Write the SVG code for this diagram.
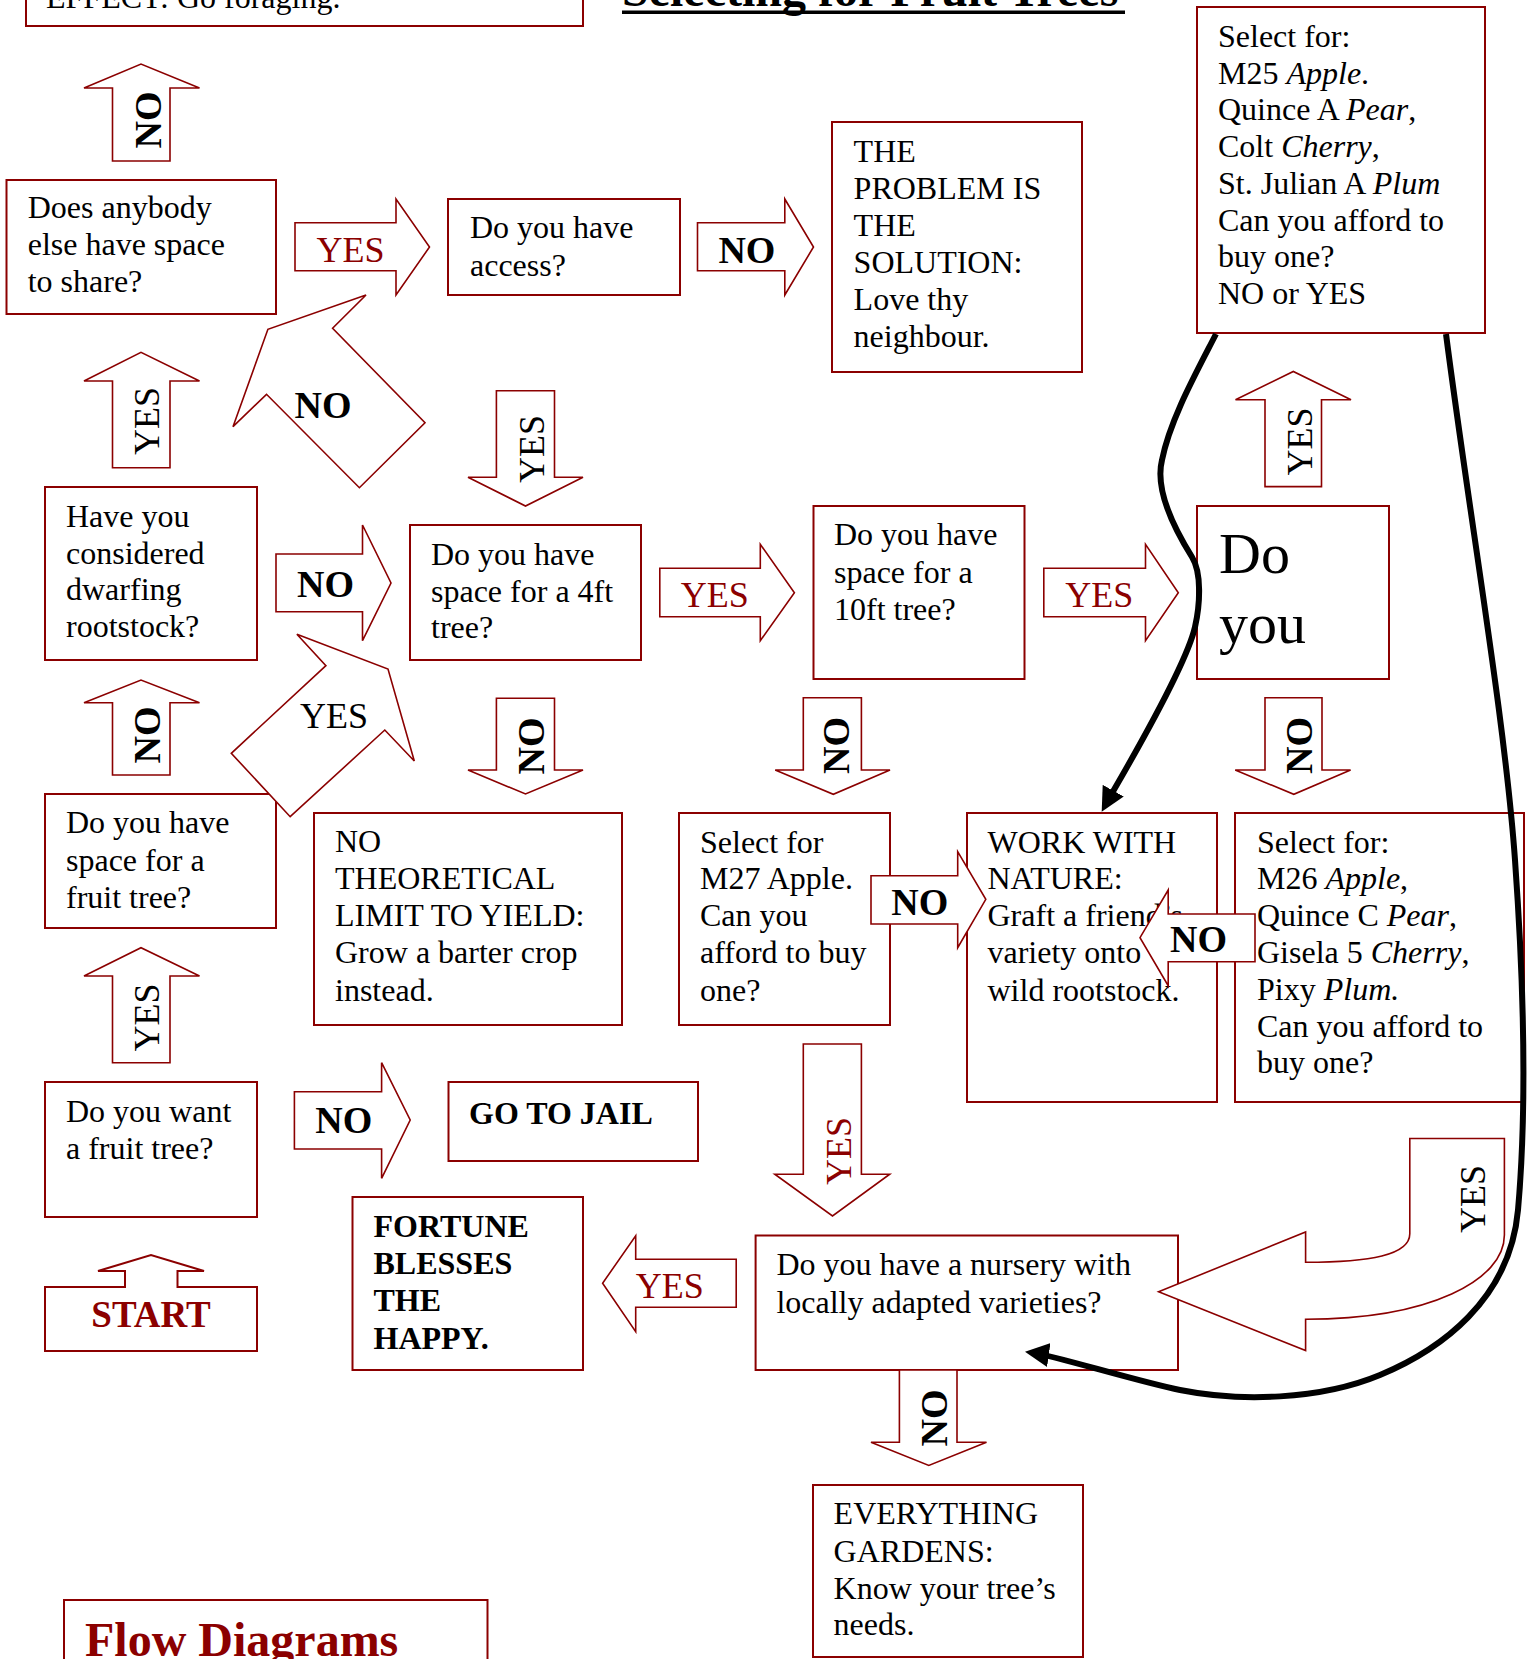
<svg xmlns="http://www.w3.org/2000/svg" width="1538" height="1659" viewBox="0 0 1538 1659">
<style>
.box{fill:#fff;stroke:#8b0000;stroke-width:2}
.arr{fill:#fff;stroke:#8b0000;stroke-width:1.6;stroke-linejoin:miter}
.t{font-family:"Liberation Serif","Times New Roman",serif;font-size:32px;fill:#000}
.bd{font-weight:bold}
.i{font-style:italic}
.no{font-family:"Liberation Serif","Times New Roman",serif;font-weight:bold;font-size:38px;fill:#000}
.yes{font-family:"Liberation Serif","Times New Roman",serif;font-size:36px;fill:#000}
.red{fill:#8b0000}
.curve{fill:none;stroke:#000;stroke-width:6;marker-end:url(#ah)}
</style>
<defs>
<marker id="ah" markerUnits="userSpaceOnUse" markerWidth="24" markerHeight="24" viewBox="0 0 24 24" refX="14" refY="12" orient="auto"><path d="M0,0 L24,12 L0,24 Z" fill="#000"/></marker>
</defs>
<rect width="1538" height="1659" fill="#fff"/>

<g id="title">
<text class="t bd" x="622" y="5.5" style="font-size:48px">Selecting for Fruit Trees</text>
<rect x="622" y="10.5" width="503" height="3.5" fill="#000"/>
</g>

<g id="nodes">
<g id="effect"><rect class="box" x="26" y="-40" width="557" height="66"/>
<text class="t" x="46" y="7.5">EFFECT: Go foraging.</text></g>

<g id="anybody"><rect class="box" x="6.5" y="180" width="269.5" height="134"/>
<text class="t" x="27.7" y="218">Does anybody</text>
<text class="t" x="27.7" y="255">else have space</text>
<text class="t" x="27.7" y="292">to share?</text></g>

<g id="access"><rect class="box" x="448" y="199" width="232" height="96"/>
<text class="t" x="470" y="238">Do you have</text>
<text class="t" x="470" y="276">access?</text></g>

<g id="problem"><rect class="box" x="832" y="122" width="250" height="250"/>
<text class="t" x="853.6" y="162">THE</text>
<text class="t" x="853.6" y="199">PROBLEM IS</text>
<text class="t" x="853.6" y="236">THE</text>
<text class="t" x="853.6" y="273">SOLUTION:</text>
<text class="t" x="853.6" y="310">Love thy</text>
<text class="t" x="853.6" y="347">neighbour.</text></g>

<g id="m25"><rect class="box" x="1197" y="7" width="288" height="326"/>
<text class="t" x="1218" y="47">Select for:</text>
<text class="t" x="1218" y="83.7">M25 <tspan class="i">Apple</tspan>.</text>
<text class="t" x="1218" y="120.4">Quince A <tspan class="i">Pear</tspan>,</text>
<text class="t" x="1218" y="157.1">Colt <tspan class="i">Cherry</tspan>,</text>
<text class="t" x="1218" y="193.8">St. Julian A <tspan class="i">Plum</tspan></text>
<text class="t" x="1218" y="230.5">Can you afford to</text>
<text class="t" x="1218" y="267.2">buy one?</text>
<text class="t" x="1218" y="304">NO or YES</text></g>

<g id="dwarfing"><rect class="box" x="45" y="487" width="212" height="173"/>
<text class="t" x="66" y="527">Have you</text>
<text class="t" x="66" y="564">considered</text>
<text class="t" x="66" y="600">dwarfing</text>
<text class="t" x="66" y="637">rootstock?</text></g>

<g id="space4ft"><rect class="box" x="410" y="525" width="231" height="135"/>
<text class="t" x="431" y="565">Do you have</text>
<text class="t" x="431" y="602">space for a 4ft</text>
<text class="t" x="431" y="638">tree?</text></g>

<g id="space10ft"><rect class="box" x="813.5" y="506" width="211" height="173"/>
<text class="t" x="834" y="545">Do you have</text>
<text class="t" x="834" y="583">space for a</text>
<text class="t" x="834" y="620">10ft tree?</text></g>

<g id="doyou"><rect class="box" x="1197" y="506" width="192" height="173"/>
<text class="t" x="1219" y="573" style="font-size:58px">Do</text>
<text class="t" x="1219" y="643" style="font-size:58px">you</text></g>

<g id="fruitspace"><rect class="box" x="45" y="794" width="231" height="134"/>
<text class="t" x="66" y="833">Do you have</text>
<text class="t" x="66" y="871">space for a</text>
<text class="t" x="66" y="908">fruit tree?</text></g>

<g id="nolimit"><rect class="box" x="314" y="813" width="308" height="212"/>
<text class="t" x="335" y="852">NO</text>
<text class="t" x="335" y="889">THEORETICAL</text>
<text class="t" x="335" y="926">LIMIT TO YIELD:</text>
<text class="t" x="335" y="963">Grow a barter crop</text>
<text class="t" x="335" y="1001">instead.</text></g>

<g id="m27"><rect class="box" x="679" y="813" width="211" height="212"/>
<text class="t" x="700" y="853">Select for</text>
<text class="t" x="700" y="889">M27 Apple.</text>
<text class="t" x="700" y="926">Can you</text>
<text class="t" x="700" y="963">afford to buy</text>
<text class="t" x="700" y="1001">one?</text></g>

<g id="nature"><rect class="box" x="967" y="813" width="250" height="289"/>
<text class="t" x="987.5" y="853">WORK WITH</text>
<text class="t" x="987.5" y="889">NATURE:</text>
<text class="t" x="987.5" y="926">Graft a friend’s</text>
<text class="t" x="987.5" y="963">variety onto</text>
<text class="t" x="987.5" y="1001">wild rootstock.</text></g>

<g id="m26"><rect class="box" x="1235" y="813" width="289" height="289"/>
<text class="t" x="1257" y="853">Select for:</text>
<text class="t" x="1257" y="889">M26 <tspan class="i">Apple</tspan>,</text>
<text class="t" x="1257" y="926">Quince C <tspan class="i">Pear</tspan>,</text>
<text class="t" x="1257" y="963">Gisela 5 <tspan class="i">Cherry</tspan>,</text>
<text class="t" x="1257" y="1000">Pixy <tspan class="i">Plum.</tspan></text>
<text class="t" x="1257" y="1037">Can you afford to</text>
<text class="t" x="1257" y="1073">buy one?</text></g>

<g id="want"><rect class="box" x="45" y="1082" width="212" height="135"/>
<text class="t" x="66" y="1122">Do you want</text>
<text class="t" x="66" y="1159">a fruit tree?</text></g>

<g id="jail"><rect class="box" x="448.5" y="1082" width="249.5" height="79"/>
<text class="t bd" x="469" y="1124">GO TO JAIL</text></g>

<g id="fortune"><rect class="box" x="352.5" y="1197" width="230.5" height="173"/>
<text class="t bd" x="373.5" y="1237">FORTUNE</text>
<text class="t bd" x="373.5" y="1274">BLESSES</text>
<text class="t bd" x="373.5" y="1311">THE</text>
<text class="t bd" x="373.5" y="1349">HAPPY.</text></g>

<g id="start"><path class="box" d="M45,1287 H125 V1271 H98 L151,1255 L204,1271 H177.5 V1287 H257 V1351 H45 Z"/>
<text class="t bd red" x="151" y="1327" text-anchor="middle" style="font-size:37px">START</text></g>

<g id="nursery"><rect class="box" x="755.6" y="1235.5" width="422.4" height="134.5"/>
<text class="t" x="776.4" y="1274.7">Do you have a nursery with</text>
<text class="t" x="776.4" y="1313">locally adapted varieties?</text></g>

<g id="everything"><rect class="box" x="813" y="1485" width="270" height="172"/>
<text class="t" x="833.6" y="1524">EVERYTHING</text>
<text class="t" x="833.6" y="1562">GARDENS:</text>
<text class="t" x="833.6" y="1599">Know your tree’s</text>
<text class="t" x="833.6" y="1635">needs.</text></g>

<g id="flow"><rect class="box" x="64" y="1600" width="423.5" height="90"/>
<text class="t bd red" x="85" y="1656" style="font-size:48px">Flow Diagrams</text></g>
</g>

<g id="connectors">
<g><path class="arr" d="M112.5,161 V88 H84 L141,64 L199.5,88 H170 V161 Z"/>
<text class="no" x="161" y="120" text-anchor="middle" transform="rotate(-90 161 120)">NO</text></g>
<g><path class="arr" d="M295,222.7 H396 V199 L429.5,247 L396,295 V270.7 H295 Z"/>
<text class="yes red" x="316.5" y="262">YES</text></g>
<g><path class="arr" d="M697.5,222.7 H784.8 V199 L813.5,247 L784.8,295 V270.7 H697.5 Z"/>
<text class="no" x="718.4" y="263">NO</text></g>
<g><path class="arr" d="M366,295 L332.6,328.3 L425,422.7 L359.4,487.7 L266.5,394.3 L233,426.7 L267.9,329.3 Z"/>
<text class="no" x="294.6" y="418">NO</text></g>
<g><path class="arr" d="M112.5,467.7 V381 H84 L141,352.3 L199.5,381 H170 V467.7 Z"/>
<text class="yes" x="158.5" y="421" text-anchor="middle" transform="rotate(-90 158.5 421)">YES</text></g>
<g><path class="arr" d="M496.4,390.7 H554.5 V477.3 H583 L525.5,506 L468,477.3 H496.4 Z"/>
<text class="yes" x="543.5" y="449" text-anchor="middle" transform="rotate(-90 543.5 449)">YES</text></g>
<g><path class="arr" d="M276,554 H362.5 V525 L391,583 L362.5,640.7 V611.7 H276 Z"/>
<text class="no" x="297" y="596.7">NO</text></g>
<g><path class="arr" d="M659.8,568.3 H760.3 V544.3 L794.4,592.7 L760.3,640.7 V616.7 H659.8 Z"/>
<text class="yes red" x="680.7" y="607.3">YES</text></g>
<g><path class="arr" d="M1043.8,568.3 H1145.5 V544.3 L1178.3,592.7 L1145.5,640.7 V616.7 H1043.8 Z"/>
<text class="yes red" x="1065.3" y="607.3">YES</text></g>
<g><path class="arr" d="M1265,486.6 V399.8 H1235.5 L1293.3,371.5 L1351,399.8 H1321.5 V486.6 Z"/>
<text class="yes" x="1311.5" y="441.5" text-anchor="middle" transform="rotate(-90 1311.5 441.5)">YES</text></g>
<g><path class="arr" d="M496.4,698.3 H554.5 V770 H583 L525.5,794 L468,770 H496.4 Z"/>
<text class="no" x="543.5" y="746" text-anchor="middle" transform="rotate(-90 543.5 746)">NO</text></g>
<g><path class="arr" d="M112.5,775 V702.7 H84 L141,680 L199.5,702.7 H170 V775 Z"/>
<text class="no" x="159.5" y="735" text-anchor="middle" transform="rotate(-90 159.5 735)">NO</text></g>
<g><path class="arr" d="M296.9,634.3 L388,669 L414.3,761 L384.8,730 L290.2,816.7 L231.3,753.3 L325.9,665.7 Z"/>
<text class="yes" x="300" y="728.3">YES</text></g>
<g><path class="arr" d="M803.3,697.7 H861.4 V770 H890 L833.3,794.3 L775.2,770 H803.3 Z"/>
<text class="no" x="849" y="745.5" text-anchor="middle" transform="rotate(-90 849 745.5)">NO</text></g>
<g><path class="arr" d="M1265,697.7 H1322 V770 H1350.6 L1293.8,794.3 L1235.2,770 H1265 Z"/>
<text class="no" x="1311.5" y="745.5" text-anchor="middle" transform="rotate(-90 1311.5 745.5)">NO</text></g>
<g><path class="arr" d="M871,875.7 H957.7 V851.7 L985.8,899.3 L957.7,947.7 V924 H871 Z"/>
<text class="no" x="891.3" y="915">NO</text></g>
<g><path class="arr" d="M1255,914 H1168.2 V890 L1140,937.7 L1168.2,985.7 V961.7 H1255 Z"/>
<text class="no" x="1170" y="951.7">NO</text></g>
<g><path class="arr" d="M112.5,1062.7 V976 H84 L141,947.7 L199.5,976 H170 V1062.7 Z"/>
<text class="yes" x="158.5" y="1017.5" text-anchor="middle" transform="rotate(-90 158.5 1017.5)">YES</text></g>
<g><path class="arr" d="M294.4,1091.7 H381.6 V1062.7 L410.2,1120 L381.6,1178.3 V1149 H294.4 Z"/>
<text class="no" x="315.3" y="1132.7">NO</text></g>
<g><path class="arr" d="M803.3,1044 H861.4 V1174.2 H889.7 L832.5,1215.9 L774.8,1174.2 H803.3 Z"/>
<text class="yes red" x="851" y="1151" text-anchor="middle" transform="rotate(-90 851 1151)">YES</text></g>
<g><path class="arr" d="M736.2,1259.3 H635.7 V1235.7 L602.6,1283.3 L635.7,1331.7 V1307.3 H736.2 Z"/>
<text class="yes red" x="635.7" y="1298.3">YES</text></g>
<g><path class="arr" d="M1409.8,1138.5 H1504.4 V1235 C1504.4,1280 1430,1319.2 1305.6,1319.2 V1350.6 L1158.6,1291.8 L1305.6,1231.9 V1262.2 C1370,1262.2 1409.8,1255 1409.8,1233.7 Z"/>
<text class="yes" x="1484.5" y="1199" text-anchor="middle" transform="rotate(-90 1484.5 1199)">YES</text></g>
<g><path class="arr" d="M899.4,1370 H957 V1442.2 H986.5 L928.8,1465.4 L871,1442.2 H899.4 Z"/>
<text class="no" x="947" y="1418" text-anchor="middle" transform="rotate(-90 947 1418)">NO</text></g>

<path class="curve" d="M1216,334 C1195,375 1170,420 1162,460 C1155,488 1172,525 1192,557 C1202,573 1200,605 1195,627 C1185,671 1116.1,785.4 1106.5,802.9"/>
<path class="curve" d="M1446,334 C1470,520 1505,720 1515,860 C1525,1000 1526,1120 1518,1210 C1510,1300 1440,1350 1380,1375 C1320,1400 1240,1402 1180,1390 C1140,1382 1054.7,1355.9 1034.9,1353.1"/>
</g>
</svg>
